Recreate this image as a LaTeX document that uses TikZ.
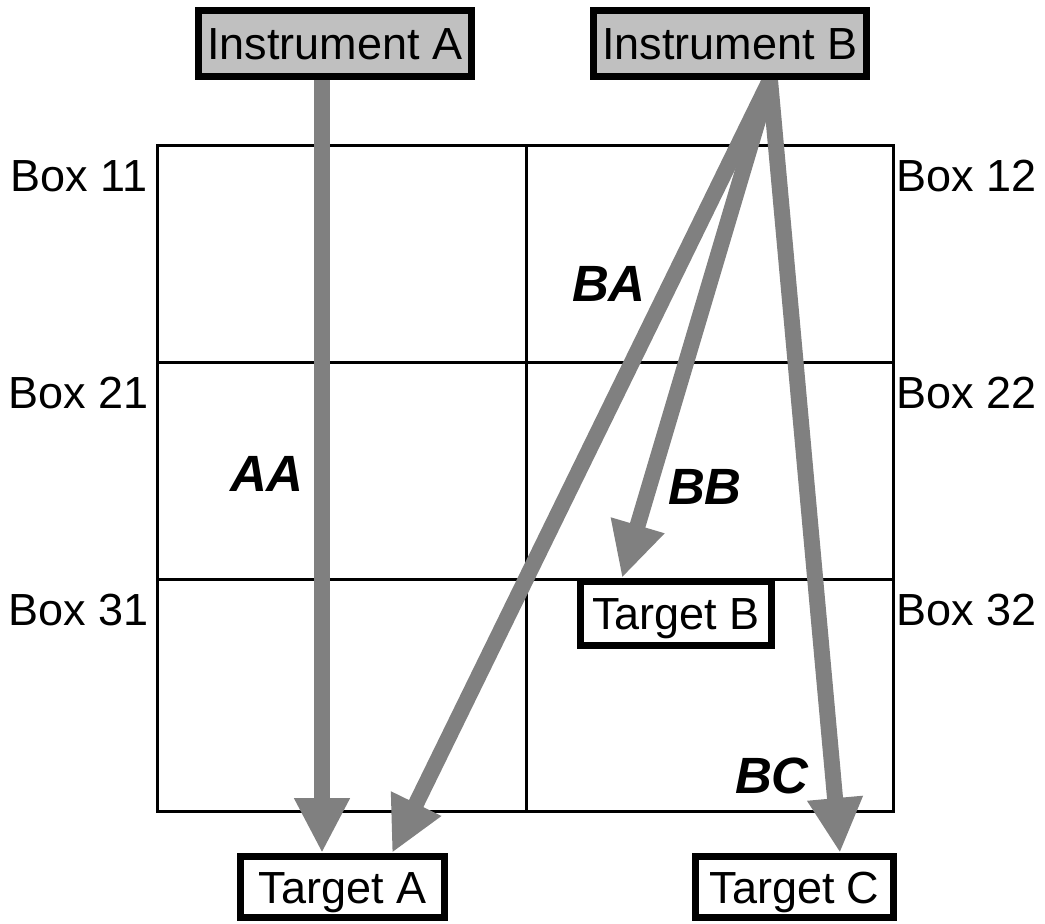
\documentclass[tikz,border=0pt]{standalone}
\usepackage{fontspec}
\setmainfont{Liberation Sans}
\usetikzlibrary{arrows.meta,backgrounds}
\definecolor{arrgray}{HTML}{808080}
\definecolor{instfill}{HTML}{C0C0C0}
\tikzset{
  base/.style={font=\fontsize{45}{54}\selectfont, text height=32pt, text depth=0pt, inner sep=0pt},
  instbox/.style={base, draw=black, line width=7pt, fill=instfill, minimum width=273pt, minimum height=66pt},
  targetbox/.style={base, draw=black, line width=7pt, fill=white, minimum height=61pt},
  boxlabel/.style={base},
  arrlabel/.style={font=\fontsize{51}{60}\selectfont\bfseries\itshape, text height=37pt, text depth=0pt, inner sep=0pt},
  arr/.style={draw=arrgray, line width=16pt, -{Triangle[length=55pt,width=52pt]}, fill=arrgray},
  grid/.style={draw=black, line width=3pt}
}
\begin{document}
\begin{tikzpicture}[x=1pt,y=-1pt]
\useasboundingbox (0,0) rectangle (1045,924);
% nodes
\node[instbox] (ia) at (335,43.5) {Instrument A};
\node[instbox] (ib) at (730,43.5) {Instrument B};
\node[targetbox, minimum width=204pt] (ta) at (342.5,887) {Target A};
\node[targetbox, minimum width=191pt, minimum height=64pt] (tb) at (676,613.5) {Target B};
\node[targetbox, minimum width=198pt] (tc) at (794.5,887) {Target C};
% box labels
\node[boxlabel] (b11) at (79,175) {Box 11};
\node[boxlabel] (b12) at (967,175) {Box 12};
\node[boxlabel] (b21) at (79,392) {Box 21};
\node[boxlabel] (b22) at (967,392) {Box 22};
\node[boxlabel] (b31) at (79,609) {Box 31};
\node[boxlabel] (b32) at (967,609) {Box 32};
% arrow labels
\node[arrlabel] (laa) at (267,473) {AA};
\node[arrlabel] (lba) at (609,283) {BA};
\node[arrlabel] (lbb) at (705,486) {BB};
\node[arrlabel] (lbc) at (772,775) {BC};
\begin{scope}[on background layer]
  \draw[grid] (157,145) rectangle (893,811);
  \draw[grid] (526,145) -- (526,811);
  \draw[grid] (157,362) -- (893,362);
  \draw[grid] (157,579) -- (893,579);
  \draw[arr] ([xshift=-13pt]ia.south) -- ([xshift=-20.5pt]ta.north);
  \draw[arr] ([xshift=40pt]ib.south) -- ([xshift=49.5pt]ta.north);
  \draw[arr] ([xshift=40pt]ib.south) -- ([xshift=-54pt]tb.north);
  \draw[arr] ([xshift=40pt]ib.south) -- ([xshift=45.5pt]tc.north);
\end{scope}
\end{tikzpicture}
\end{document}
